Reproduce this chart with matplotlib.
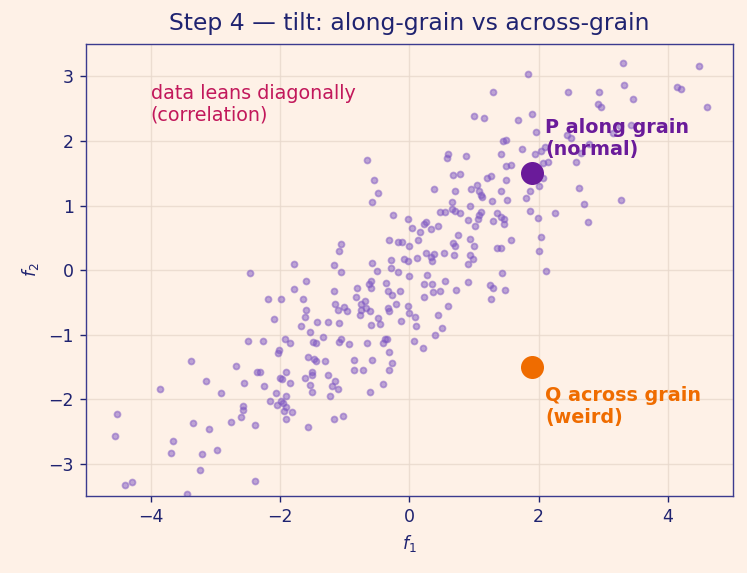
import numpy as np
import matplotlib
matplotlib.use("Agg")
import matplotlib.pyplot as plt

# sample points (f1, f2)
f1 = [
    -3.37, -2.68, -3.14, -3.85, -2.91, -2.55, -2.57, -2.57, -2.61, -2.76,
    -4.52, -4.55, -3.34, -3.09, -3.65, -3.68, -3.20, -2.98, -3.24, -4.40,
    -4.28, -3.44,
    -2.49, -2.26, -1.92, -1.84, -1.53, -1.34, -1.49, -1.44, -1.06, -1.09,
    -0.94, -0.66, -0.40, -0.38, -0.34, -0.32, -2.02, -2.03, -1.57, -1.48,
    -1.44, -1.30, -0.86, -0.57, -0.27, -0.85, -0.72, -0.32, -2.35, -2.31,
    -1.91, -1.51, -1.50, -1.25, -1.62, -2.00, -1.97, -1.84, -2.24, -1.53,
    -1.15, -1.19, -1.11, -1.50, -0.41, -0.61, -2.06, -1.91, -1.22, -2.15,
    -1.98, -1.96, -2.04, -1.90, -1.94, -1.82, -1.90, -1.16, -1.02, -1.56,
    -2.39, -2.38,
    -0.57, -0.26, -0.32, -0.18, -0.11, -1.05, -1.08, -1.78, -1.17, -0.57,
    -0.29, -0.09, -2.47, -1.06, -0.50, -0.29, -0.17, -1.59, -0.59, -0.62,
    -0.59, -0.36, -1.78, -1.17, -0.81, -0.33, -0.27, -0.15, -2.19, -1.98,
    -1.64, -0.83, -0.69, -1.15, -1.01, -0.97, -1.10, -0.74, -0.75, -0.67,
    -0.61, -0.76, -0.33, -0.31, -0.20, -1.59, -1.61, -2.09, -1.42, -1.25,
    -1.08, -1.68, -0.59, -0.48, -0.46, -0.13,
    -0.66, -0.55, -0.48,
    -0.02, 0.12, 0.25, 0.38, 0.34, 0.35, 0.53, 0.69, 0.94, 0.99,
    0.90, 2.00, 2.11, 1.43, 0.00, 0.27, 0.22, 0.35, 0.55, 0.90,
    1.24, 1.29, 1.48, 0.36, 0.47, 0.72, 1.26, 0.22, 0.59, -0.02,
    -0.01, 0.08, 0.45, 0.11, 0.50, 0.39, 0.07, 0.21,
    1.95, 1.44, 1.49, 1.74, 1.94, 2.04, 2.09, 0.60, 0.58, 0.88,
    1.41, 1.49, 1.57, 2.06, 2.15, 0.68, 0.78, 1.20, 1.26, 1.49,
    2.07, 0.38, 0.70, 0.95, 1.04, 1.08, 1.11, 1.13, 1.41, 1.86,
    2.00, 1.80, 1.51, 1.27, 0.66, 0.93, 0.47, 0.55, 0.66, 0.70,
    0.78, 1.10, 1.08, 1.06, 1.36, 0.90, 1.30, 1.42, 1.47, 1.47,
    1.86, 1.99, 2.25, -0.02, 0.26, 0.22, 0.04, 0.16, 0.34, 0.44,
    1.01, 0.75, 0.13, 0.00, 0.68, 0.71, 0.93, 1.00, 1.35, 1.42,
    1.57, 2.03,
    1.83, 1.29, 1.00, 1.15, 1.68, 1.89,
    3.30, 4.48, 2.46, 2.93, 3.32, 4.13, 4.20, 3.46, 2.91, 2.96,
    4.60, 3.15, 3.26, 3.42, 2.44, 2.50, 2.78,
    2.65, 2.57, 2.62, 2.70, 3.27, 2.76,
]
f2 = [
    -1.41, -1.48, -1.71, -1.84, -1.90, -1.75, -2.10, -2.16, -2.28, -2.35,
    -2.23, -2.56, -2.37, -2.46, -2.64, -2.83, -2.85, -2.78, -3.10, -3.33,
    -3.28, -3.47,
    -1.10, -1.10, -1.07, -1.13, -0.96, -1.04, -1.11, -1.12, -1.06, -1.11,
    -1.15, -1.13, -1.13, -1.07, -1.07, -1.26, -1.24, -1.29, -1.35, -1.38,
    -1.40, -1.41, -1.39, -1.39, -1.44, -1.54, -1.54, -1.54, -1.58, -1.58,
    -1.57, -1.58, -1.63, -1.62, -1.67, -1.67, -1.69, -1.75, -1.79, -1.78,
    -1.72, -1.80, -1.84, -1.88, -1.76, -1.89, -1.90, -1.95, -1.95, -2.02,
    -2.02, -2.05, -2.09, -2.12, -2.18, -2.20, -2.31, -2.30, -2.26, -2.43,
    -2.39, -3.26,
    1.06, 0.85, 0.46, 0.44, 0.44, 0.40, 0.29, 0.09, 0.08, 0.11,
    0.15, 0.17, -0.05, -0.03, -0.02, 0.03, -0.03, -0.16, -0.17, -0.22,
    -0.27, -0.20, -0.29, -0.32, -0.28, -0.32, -0.38, -0.32, -0.45, -0.44,
    -0.45, -0.41, -0.48, -0.53, -0.57, -0.63, -0.61, -0.53, -0.62, -0.59,
    -0.63, -0.70, -0.58, -0.63, -0.52, -0.62, -0.73, -0.76, -0.81, -0.81,
    -0.82, -0.87, -0.85, -0.74, -0.84, -0.78,
    1.70, 1.39, 1.19,
    0.14, 0.19, 0.27, 0.25, 0.20, 0.14, 0.27, 0.24, 0.23, 0.18,
    0.10, 0.30, -0.01, -0.04, -0.09, -0.08, -0.22, -0.21, -0.16, -0.18,
    -0.23, -0.27, -0.31, -0.34, -0.33, -0.30, -0.45, -0.42, -0.56, -0.56,
    -0.66, -0.73, -0.69, -0.86, -0.89, -1.01, -1.10, -1.20,
    2.14, 2.00, 2.02, 1.87, 1.80, 1.84, 1.90, 1.80, 1.74, 1.77,
    1.80, 1.61, 1.63, 1.66, 1.68, 1.47, 1.49, 1.43, 1.46, 1.39,
    1.43, 1.26, 1.23, 1.25, 1.32, 1.22, 1.17, 1.14, 1.23, 1.22,
    1.30, 1.12, 1.08, 1.07, 1.05, 0.99, 0.90, 0.90, 0.94, 0.92,
    0.88, 0.90, 0.85, 0.80, 0.89, 0.78, 0.76, 0.82, 0.80, 0.71,
    0.92, 0.81, 0.88, 0.80, 0.74, 0.71, 0.66, 0.59, 0.63, 0.68,
    0.68, 0.54, 0.46, 0.38, 0.42, 0.37, 0.48, 0.38, 0.35, 0.35,
    0.46, 0.52,
    3.04, 2.76, 2.38, 2.36, 2.33, 2.42,
    3.21, 3.16, 2.76, 2.76, 2.87, 2.84, 2.81, 2.65, 2.57, 2.53,
    2.53, 2.13, 2.23, 2.24, 2.10, 2.04, 1.96,
    1.81, 1.67, 1.28, 1.02, 1.09, 0.75,
]

p_point = (1.9, 1.5)
q_point = (1.9, -1.5)

bg = "#fef1e7"
navy = "#1f2370"
cloud = "#7e57c2"
purple = "#6a1b9a"
orange = "#ef6c00"
crimson = "#c2185b"

fig = plt.figure(figsize=(747 / 125, 573 / 125), dpi=125, facecolor=bg)
ax = fig.add_axes([0.115, 0.134, 0.866, 0.789], facecolor=bg)

ax.scatter(f1, f2, s=12, color=cloud, alpha=0.5, linewidths=1, zorder=2)
ax.scatter(*p_point, s=150, color=purple, zorder=3)
ax.scatter(*q_point, s=150, color=orange, zorder=3)

ax.text(2.1, 1.72, "P along grain\n(normal)", color=purple, fontsize=11,
        fontweight="bold", ha="left", va="bottom", zorder=4)
ax.text(2.1, -1.8, "Q across grain\n(weird)", color=orange, fontsize=11,
        fontweight="bold", ha="left", va="top", zorder=4)
ax.text(-4.0, 2.25, "data leans diagonally\n(correlation)", color=crimson,
        fontsize=11, ha="left", va="bottom")

ax.set_xlim(-5, 5)
ax.set_ylim(-3.5, 3.5)
ax.set_xticks([-4, -2, 0, 2, 4])
ax.set_yticks([-3, -2, -1, 0, 1, 2, 3])
ax.grid(True, color="#e8d8cc", linewidth=0.8, alpha=0.8)
ax.set_axisbelow(True)

ax.set_title("Step 4 \u2014 tilt: along-grain vs across-grain", color=navy,
             fontsize=13.5, pad=8)
ax.set_xlabel("$f_1$", color=navy, fontsize=10)
ax.set_ylabel("$f_2$", color=navy, fontsize=10)
ax.tick_params(colors=navy, labelsize=10)
for s in ax.spines.values():
    s.set_color("#3b3b8f")

fig.savefig("out.png", dpi=125, facecolor=bg)
